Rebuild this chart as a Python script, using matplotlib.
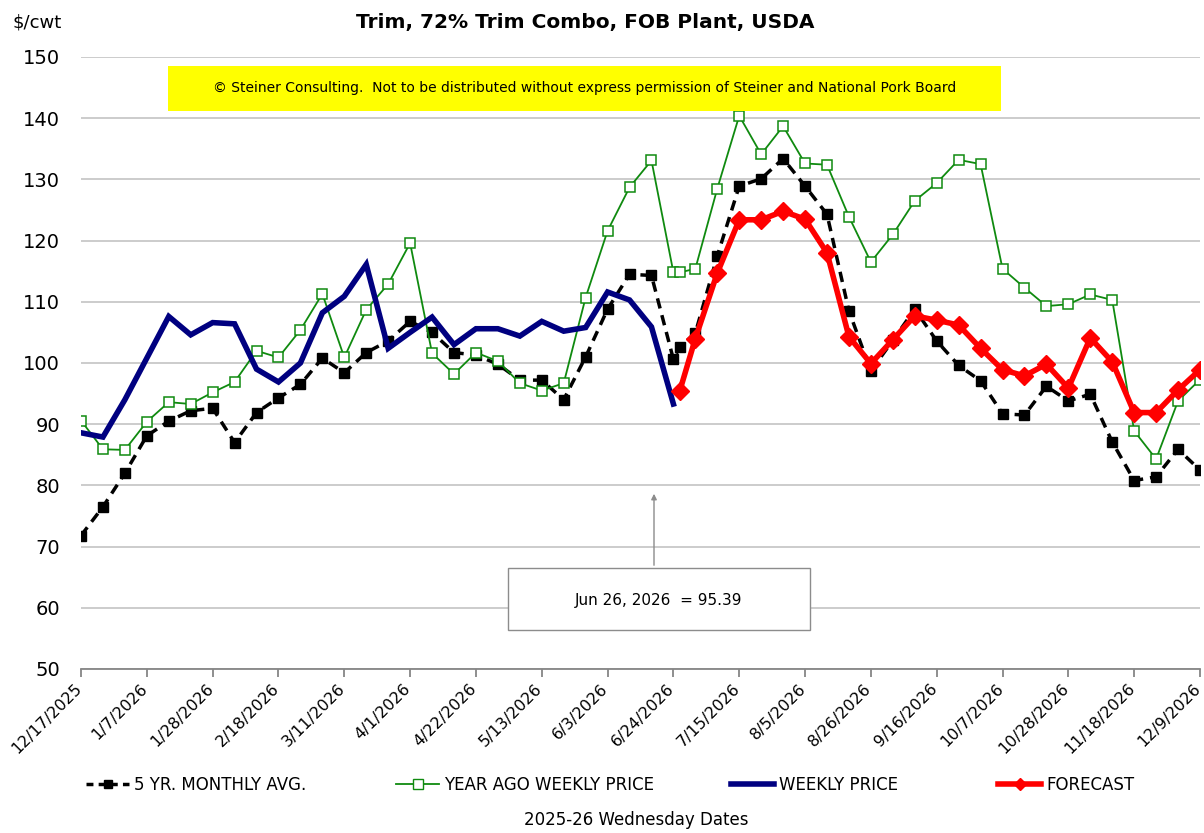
# Trim, 72% Trim Combo chart - weekly price vs forecast
import numpy as np
import pandas as pd
import matplotlib.pyplot as plt
import matplotlib.transforms as mtransforms
from matplotlib.lines import Line2D
from matplotlib.patches import Rectangle

plt.rcParams['font.family'] = ['DejaVu Sans']

# wednesdays from 12/17/2025 to 12/9/2026, plus the friday 6/26/2026 where the forecast starts
weeks = list(pd.date_range('2025-12-17', '2026-12-09', freq='7D'))
extra_day = pd.Timestamp('2026-06-26')
dates = weeks[:28] + [extra_day] + weeks[28:]

nan = np.nan

five_yr = [71.8, 76.5, 82.0, 88.1, 90.5, 92.2, 92.6, 87.0, 91.9, 94.3, 96.5, 100.8,
           98.4, 101.7, 103.6, 106.8, 105.0, 101.7, 101.3, 99.8, 97.2, 97.2, 94.0, 101.0,
           108.8, 114.5, 114.3, 100.6,
           102.6,
           104.9, 117.5, 128.9, 130.1, 133.4, 128.9, 124.3, 108.5, 98.7, 103.7, 108.8, 103.6,
           99.6, 97.1, 91.7, 91.5, 96.2, 93.8, 94.9, 87.1, 80.8, 81.4, 85.9, 82.5]

year_ago = [90.6, 85.9, 85.8, 90.4, 93.6, 93.3, 95.2, 96.9, 102.0, 100.9, 105.4, 111.3,
            100.9, 108.7, 112.9, 119.6, 101.6, 98.2, 101.7, 100.3, 96.7, 95.5, 96.7, 110.7,
            121.6, 128.7, 133.1, 114.8,
            114.8,
            115.4, 128.5, 140.4, 134.1, 138.7, 132.6, 132.4, 123.9, 116.5, 121.0, 126.5, 129.4,
            133.2, 132.5, 115.4, 112.3, 109.3, 109.6, 111.2, 110.3, 88.9, 84.3, 93.8, 97.3]

weekly = [88.6, 87.9, 94.0, 100.8, 107.6, 104.6, 106.6, 106.4, 99.0, 96.9, 100.0, 108.2,
          110.9, 116.1, 102.4, 105.0, 107.5, 103.0, 105.6, 105.6, 104.4, 106.8, 105.2, 105.8,
          111.6, 110.3, 105.9, 93.3] + [nan] * 25

forecast = [nan] * 28 + [95.39,
            104.0, 114.7, 123.4, 123.4, 124.8, 123.5, 118.0, 104.3, 99.9, 103.8, 107.7, 107.0,
            106.2, 102.4, 98.9, 97.9, 99.8, 95.9, 104.1, 100.2, 91.9, 91.9, 95.6, 98.9]

tick_labels = ['12/17/2025', '1/7/2026', '1/28/2026', '2/18/2026', '3/11/2026', '4/1/2026',
               '4/22/2026', '5/13/2026', '6/3/2026', '6/24/2026', '7/15/2026', '8/5/2026',
               '8/26/2026', '9/16/2026', '10/7/2026', '10/28/2026', '11/18/2026', '12/9/2026']

series_names = ['5 YR. MONTHLY AVG.', 'YEAR AGO WEEKLY PRICE', 'WEEKLY PRICE', 'FORECAST']

green = '#0f8a0f'
navy = '#000080'
red = '#ff0000'
axis_gray = '#868686'

fig = plt.figure(figsize=(12.04, 8.33), dpi=100)
ax = fig.add_axes([81 / 1204, 164 / 833, 1119 / 1204, 612 / 833])

l1, = ax.plot(dates, five_yr, color='black', lw=2.5, ls=(0, (3, 2)), marker='s', ms=6.5,
              zorder=3, label=series_names[0])
l2, = ax.plot(dates, year_ago, color=green, lw=1.3, marker='s', ms=7, mfc='white',
              mec=green, mew=1.1, zorder=4, label=series_names[1])
l3, = ax.plot(dates, weekly, color=navy, lw=4, solid_joinstyle='miter', zorder=5,
              label=series_names[2])
l4, = ax.plot(dates, forecast, color=red, lw=4, marker='D', ms=9, zorder=6,
              label=series_names[3])

ax.set_ylim(50, 150)
ax.set_yticks(np.arange(50, 151, 10))
ax.set_xlim(weeks[0], weeks[-1])
ax.set_xticks(weeks[::3])
ax.set_xticklabels([])

# rotated date labels, drawn as texts so they can sit a little left of each tick
lab_trans = mtransforms.blended_transform_factory(ax.transData, ax.transAxes) + \
    mtransforms.ScaledTranslation(-7 / 100, -12 / 100, fig.dpi_scale_trans)
for d, t in zip(weeks[::3], tick_labels):
    ax.text(d, 0, t, transform=lab_trans, rotation=45, ha='right', va='top',
            rotation_mode='anchor', fontsize=11.5, clip_on=False)

ax.yaxis.grid(True, color='#c8c8c8', lw=1.3)
ax.set_axisbelow(True)
for s in ['top', 'right', 'left']:
    ax.spines[s].set_visible(False)
ax.spines['bottom'].set_color(axis_gray)
ax.spines['bottom'].set_linewidth(1.3)
ax.tick_params(axis='y', length=0, labelsize=14, pad=15)
ax.tick_params(axis='x', length=6, width=1.3, color=axis_gray)

# title and unit
fig.text(0.486, 0.973, 'Trim, 72% Trim Combo, FOB Plant, USDA', ha='center', va='center',
         fontsize=14.5, fontweight='bold')
fig.text(12 / 1204, 0.973, '$/cwt', ha='left', va='center', fontsize=13)

# copyright banner
fig.patches.append(Rectangle((168 / 1204, (833 - 111) / 833), 833 / 1204, 45 / 833,
                             transform=fig.transFigure, facecolor='#ffff00', edgecolor='none',
                             zorder=10))
fig.text(585 / 1204, (833 - 88) / 833,
         '© Steiner Consulting.  Not to be distributed without express permission of Steiner and National Pork Board',
         ha='center', va='center', fontsize=10, zorder=11)

# callout box
fig.patches.append(Rectangle((508 / 1204, (833 - 630) / 833), 302 / 1204, 62 / 833,
                             transform=fig.transFigure, facecolor='white', edgecolor='#8c8c8c',
                             lw=1, zorder=10))
fig.text(659 / 1204, (833 - 600) / 833, 'Jun 26, 2026  = 95.39', ha='center', va='center',
         fontsize=11, zorder=11)
ax.annotate('', xy=(654 / 1204, (833 - 491) / 833), xycoords='figure fraction',
            xytext=(654 / 1204, (833 - 568) / 833), textcoords='figure fraction',
            arrowprops=dict(arrowstyle='-|>', color='#8c8c8c', lw=1, mutation_scale=8))

# legend, one entry at a time to match spacing
legend_x = [86, 396, 731, 998]
for h, x in zip([l1, l2, l3, l4], legend_x):
    if h is l1:
        hh = Line2D([], [], color='black', lw=2.5, ls=(0, (2, 1.5)), marker='s', ms=6)
    elif h is l2:
        hh = Line2D([], [], color=green, lw=1.3, marker='s', ms=7, mfc='white', mec=green)
    elif h is l3:
        hh = Line2D([], [], color=navy, lw=4)
    else:
        hh = Line2D([], [], color=red, lw=4, marker='D', ms=6)
    fig.legend(handles=[hh], labels=[h.get_label()], loc='center left',
               bbox_to_anchor=(x / 1204, (833 - 785) / 833), frameon=False, fontsize=12,
               handlelength=2.6, handletextpad=0.3, borderpad=0, borderaxespad=0)

fig.text(636 / 1204, (833 - 820) / 833, '2025-26 Wednesday Dates', ha='center', va='center',
         fontsize=12)

fig.savefig('out.png', dpi=100)
